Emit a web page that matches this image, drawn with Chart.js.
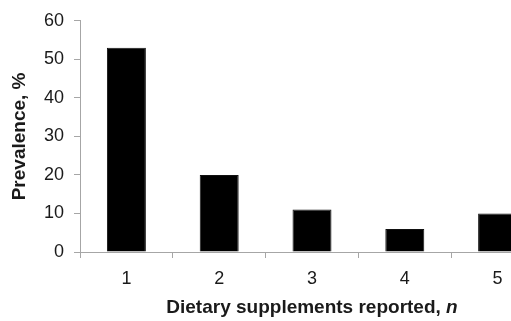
<!DOCTYPE html>
<html>
<head>
<meta charset="utf-8">
<script src="https://cdn.jsdelivr.net/npm/chart.js@4/dist/chart.umd.min.js"></script>
<style>
    html, body { margin: 0; padding: 0; background: #fff; overflow: hidden; }
    #wrap { width: 511px; height: 321px; overflow: hidden; }
</style>
</head>
<body>
<div id="wrap">
    <canvas id="chart" width="544" height="321"></canvas>
</div>
<script>
const categories = ['1', '2', '3', '4', '5'];
const prevalence = [53, 20, 11, 6, 10];
const yTicks = [0, 10, 20, 30, 40, 50, 60];

const yTitle = 'Prevalence, %';
const xTitle = 'Dietary supplements reported, ';
const xTitleItalic = 'n';

const fontFamily = '"Liberation Sans", Arial, sans-serif';
const axisGray = '#a6a6a6';
const textColor = '#1a1a1a';

// x title has an italic "n" at the end, so it is drawn by hand
const xTitlePlugin = {
    id: 'xTitle',
    afterDraw(chart) {
        const ctx = chart.ctx;
        const area = chart.chartArea;
        ctx.save();
        ctx.fillStyle = textColor;
        ctx.textBaseline = 'middle';
        ctx.font = 'bold 19px ' + fontFamily;
        let w1 = ctx.measureText(xTitle).width;
        ctx.font = 'italic bold 19px ' + fontFamily;
        let w2 = ctx.measureText(xTitleItalic).width;
        let x = (area.left + area.right) / 2 - (w1 + w2) / 2;
        let y = 308;
        ctx.font = 'bold 19px ' + fontFamily;
        ctx.textAlign = 'left';
        ctx.fillText(xTitle, x, y);
        ctx.font = 'italic bold 19px ' + fontFamily;
        ctx.fillText(xTitleItalic, x + w1, y);
        ctx.restore();
    }
};

const config = {
    type: 'bar',
    data: {
        labels: categories,
        datasets: [{
            data: prevalence,
            backgroundColor: '#000',
            borderColor: '#111',
            borderWidth: 1,
            barPercentage: 0.42,
            categoryPercentage: 1
        }]
    },
    options: {
        responsive: false,
        animation: false,
        layout: { padding: { left: 8, top: 12, right: 0, bottom: 0 } },
        plugins: {
            legend: { display: false },
            tooltip: { enabled: false }
        },
        scales: {
            x: {
                offset: true,
                grid: {
                    offset: true,
                    drawOnChartArea: false,
                    drawTicks: true,
                    tickLength: 6,
                    color: axisGray
                },
                border: { color: axisGray, width: 1 },
                ticks: {
                    color: textColor,
                    font: { family: fontFamily, size: 18 },
                    padding: 10,
                    maxRotation: 0
                },
                afterFit(scale) { scale.height = 69; }
            },
            y: {
                min: 0,
                max: 60,
                afterBuildTicks(scale) {
                    scale.ticks = yTicks.map(v => ({ value: v }));
                },
                grid: {
                    drawOnChartArea: false,
                    drawTicks: true,
                    tickLength: 6,
                    color: axisGray
                },
                border: { color: axisGray, width: 1 },
                ticks: {
                    color: textColor,
                    font: { family: fontFamily, size: 18 },
                    padding: 10
                },
                title: {
                    display: true,
                    text: yTitle,
                    color: textColor,
                    font: { family: fontFamily, size: 19, weight: 'bold' },
                    padding: { top: 0, bottom: 4 }
                },
                afterFit(scale) { scale.width = 72; }
            }
        }
    },
    plugins: [xTitlePlugin]
};

new Chart(document.getElementById('chart'), config);
</script>
</body>
</html>
